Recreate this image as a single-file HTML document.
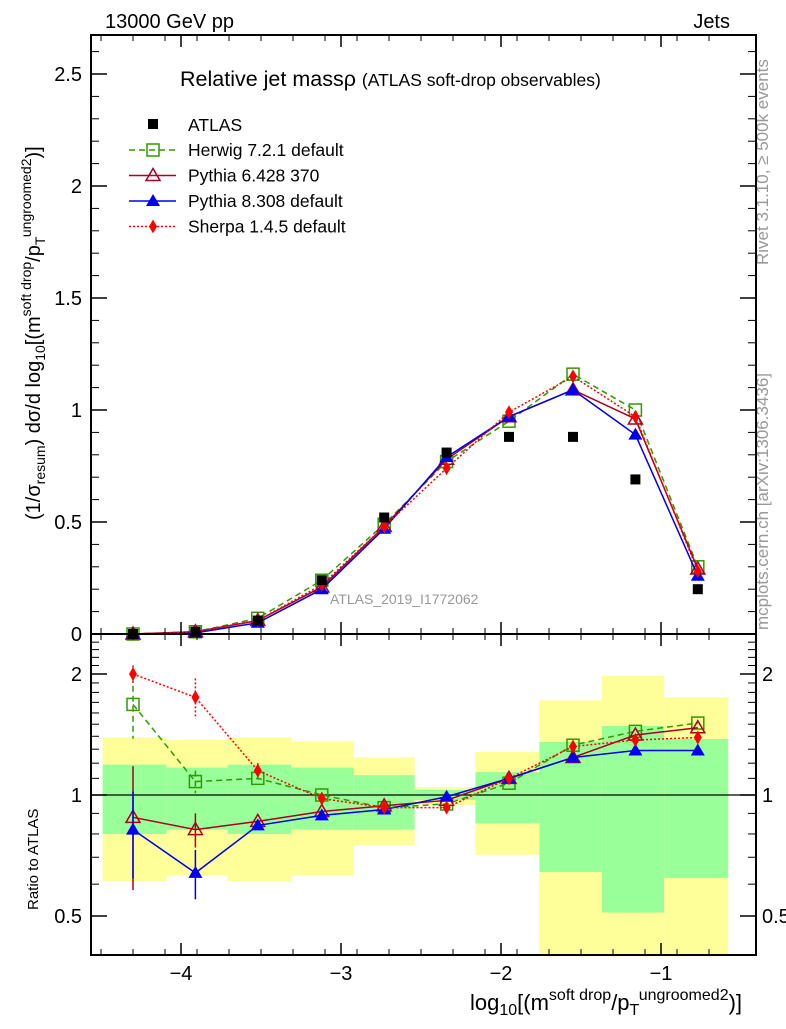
<!DOCTYPE html>
<html><head><meta charset="utf-8"><style>
body{margin:0;background:#fff}
svg{font-family:"Liberation Sans",sans-serif}
</style></head><body>
<svg id="c" width="786" height="1024" viewBox="0 0 786 1024" xmlns="http://www.w3.org/2000/svg">
<text x="105" y="28" font-size="20">13000 GeV pp</text>
<text x="730" y="28" font-size="20" text-anchor="end">Jets</text>
<text x="180" y="86" font-size="21.5">Relative jet massρ <tspan font-size="17.5">(ATLAS soft-drop observables)</tspan></text>
<text x="330" y="604" font-size="14" fill="#999">ATLAS_2019_I1772062</text>
<text transform="translate(768,265) rotate(-90)" font-size="17" fill="#999">Rivet 3.1.10, ≥ 500k events</text>
<text transform="translate(768,630) rotate(-90)" font-size="17" fill="#999">mcplots.cern.ch [arXiv:1306.3436]</text>
<text transform="translate(40,520) rotate(-90)" font-size="20">(1/σ<tspan font-size="14" dy="5">resum</tspan><tspan dy="-5">) dσ/d log</tspan><tspan font-size="14" dy="5">10</tspan><tspan dy="-5">[(m</tspan><tspan font-size="14" dy="-9">soft drop</tspan><tspan dy="9">/p</tspan><tspan font-size="14" dy="5">T</tspan><tspan font-size="14" dy="-14">ungroomed</tspan><tspan font-size="14" dy="0">2</tspan><tspan dy="9">)]</tspan></text>
<text transform="translate(38,910) rotate(-90)" font-size="15">Ratio to ATLAS</text>
<text x="470" y="1010" font-size="22">log<tspan font-size="16" dy="5">10</tspan><tspan dy="-5">[(m</tspan><tspan font-size="16" dy="-10">soft drop</tspan><tspan dy="10">/p</tspan><tspan font-size="16" dy="5">T</tspan><tspan font-size="16" dy="-15">ungroomed</tspan><tspan font-size="16">2</tspan><tspan dy="10">)]</tspan></text>
<g id="bands"></g><g id="marks"></g><g id="axes"></g><g id="legend"></g>
</svg>
<script>
const xCenters=[-4.3,-3.91,-3.52,-3.12,-2.73,-2.34,-1.95,-1.55,-1.16,-0.77];
const binEdges=[-4.49,-4.09,-3.71,-3.31,-2.92,-2.54,-2.16,-1.76,-1.37,-0.98,-0.58];
const atlas=[0.0,0.01,0.06,0.24,0.52,0.81,0.88,0.88,0.69,0.2];
const herwig=[0.0,0.01,0.07,0.24,0.49,0.77,0.95,1.16,1.0,0.3];
const py6=[0.0,0.01,0.06,0.21,0.48,0.78,0.97,1.09,0.96,0.29];
const py8=[0.0,0.005,0.05,0.2,0.47,0.79,0.97,1.09,0.89,0.26];
const sherpa=[0.0,0.01,0.06,0.22,0.48,0.74,0.99,1.15,0.97,0.28];
const rHerwig=[1.68,1.08,1.1,1.0,0.93,0.95,1.07,1.33,1.44,1.51];
const rPy6=[0.88,0.82,0.86,0.91,0.94,0.97,1.1,1.24,1.41,1.47];
const rPy8=[0.82,0.64,0.84,0.89,0.92,0.99,1.1,1.24,1.29,1.29];
const rSherpa=[2.0,1.75,1.15,0.98,0.93,0.93,1.1,1.32,1.37,1.39];
const rHerwigErr=[0.3,0.07,0.03,0.02,0.01,0.01,0.01,0.01,0.01,0.01];
const rPy6Err=[0.3,0.08,0.02,0.01,0.01,0.01,0.01,0.01,0.01,0.01];
const rPy8Err=[0.2,0.09,0.02,0.01,0.01,0.01,0.01,0.01,0.01,0.01];
const rSherpaErr=[0.1,0.2,0.05,0.02,0.01,0.01,0.01,0.01,0.01,0.01];
const yellowHi=[1.39,1.37,1.39,1.36,1.24,1.047,1.28,1.72,1.98,1.75];
const yellowLo=[0.61,0.63,0.61,0.63,0.75,0.944,0.71,0.3,0.3,0.3];
const greenHi=[1.19,1.17,1.19,1.17,1.12,1.029,1.14,1.355,1.485,1.378];
const greenLo=[0.80,0.82,0.80,0.82,0.82,0.972,0.85,0.643,0.51,0.622];
const xTicks=[-4,-3,-2,-1];
const yTicks=[0,0.5,1,1.5,2,2.5];
const rTicks=[0.5,1,2];

const NS="http://www.w3.org/2000/svg";
const L=91,R=756,T=35,MB=634,RB=955;
const X=v=>181+(v+4)*160;
const Y=v=>634-v*224;
const RY=v=>Math.min(RB,Math.max(MB,795-121*Math.log2(v)));
function mk(tag,at,par){const e=document.createElementNS(NS,tag);for(const k in at)e.setAttribute(k,at[k]);document.getElementById(par).appendChild(e);return e;}

for(let i=0;i<xCenters.length;i++){
 const x0=X(binEdges[i]),x1=X(binEdges[i+1]);
 let e=mk('rect',{x:x0,y:RY(yellowHi[i]),width:x1-x0,height:RY(yellowLo[i])-RY(yellowHi[i]),fill:'#ffff99'},'bands');
 
 
 e=mk('rect',{x:x0,y:RY(greenHi[i]),width:x1-x0,height:RY(greenLo[i])-RY(greenHi[i]),fill:'#99ff99'},'bands');
 
 
}
let ln=mk('line',{x1:L,x2:R,y1:RY(1),y2:RY(1),stroke:'#000','stroke-width':1.2},'bands');



function marker(kind,x,y,col,par){
 let e;
 if(kind==='sq')e=mk('rect',{x:x-5,y:y-5,width:10,height:10,fill:'#000'},par);
 else if(kind==='osq')e=mk('rect',{x:x-6,y:y-6,width:12,height:12,fill:'none',stroke:col,'stroke-width':1.5},par);
 else if(kind==='otri')e=mk('polygon',{points:`${x},${y-7} ${x-7},${y+5} ${x+7},${y+5}`,fill:'none',stroke:col,'stroke-width':1.5},par);
 else if(kind==='tri')e=mk('polygon',{points:`${x},${y-7} ${x-7},${y+5} ${x+7},${y+5}`,fill:col},par);
 else e=mk('polygon',{points:`${x},${y-7} ${x-4},${y} ${x},${y+7} ${x+4},${y}`,fill:col},par);
 return e;
}
const series=[
 {name:'herwig',m:herwig,r:rHerwig,er:rHerwigErr,col:'#339900',dash:'6,4',k:'osq'},
 {name:'pythia6',m:py6,r:rPy6,er:rPy6Err,col:'#aa0022',dash:'',k:'otri'},
 {name:'pythia8',m:py8,r:rPy8,er:rPy8Err,col:'#0000ee',dash:'',k:'tri'},
 {name:'sherpa',m:sherpa,r:rSherpa,er:rSherpaErr,col:'#ff0000',dash:'2,2',k:'dia'}];
series.forEach(s=>{
 let p=mk('polyline',{points:xCenters.map((x,i)=>X(x)+','+Y(s.m[i])).join(' '),fill:'none',stroke:s.col,'stroke-width':1.5,'stroke-dasharray':s.dash},'marks');
 
 
 p=mk('polyline',{points:xCenters.map((x,i)=>X(x)+','+RY(s.r[i])).join(' '),fill:'none',stroke:s.col,'stroke-width':1.5,'stroke-dasharray':s.dash},'marks');
 
 
 xCenters.forEach((x,i)=>{
  let e=marker(s.k,X(x),Y(s.m[i]),s.col,'marks');
  
  
  if(s.er[i]>0.02){
   e=mk('line',{x1:X(x),x2:X(x),y1:RY(s.r[i]+s.er[i]),y2:RY(Math.max(0.05,s.r[i]-s.er[i])),stroke:s.col,'stroke-width':1.5,'stroke-dasharray':s.dash},'marks');
   
   
  }
  e=marker(s.k,X(x),RY(s.r[i]),s.col,'marks');
  
  
 });
});
xCenters.forEach((x,i)=>{
 const e=marker('sq',X(x),Y(atlas[i]),'#000','marks');
 
 
});

[[T,MB],[MB,RB]].forEach(([a,b])=>{
 const e=mk('rect',{x:L,y:a,width:R-L,height:b-a,fill:'none',stroke:'#000','stroke-width':2},'axes');
 
 
});
for(let v=-4.5;v<=-0.6;v+=0.2){const x=X(v);[[T,6],[MB,-6],[MB,6],[RB,-6]].forEach(([y,d])=>mk('line',{x1:x,x2:x,y1:y,y2:y+d,stroke:'#000'},'axes'));}
xTicks.forEach(v=>{const x=X(v);
 [[T,12],[MB,-12],[MB,12],[RB,-12]].forEach(([y,d])=>mk('line',{x1:x,x2:x,y1:y,y2:y+d,stroke:'#000','stroke-width':1.5},'axes'));
 const t=mk('text',{x:x,y:980,'font-size':20,'text-anchor':'middle'},'axes');t.textContent='−'+Math.abs(v);
 
 
});
for(let v=0.1;v<2.65;v+=0.1){const y=Y(v);mk('line',{x1:L,x2:L+8,y1:y,y2:y,stroke:'#000'},'axes');mk('line',{x1:R,x2:R-8,y1:y,y2:y,stroke:'#000'},'axes');}
yTicks.forEach(v=>{const y=Y(v);
 mk('line',{x1:L,x2:L+16,y1:y,y2:y,stroke:'#000','stroke-width':1.5},'axes');mk('line',{x1:R,x2:R-16,y1:y,y2:y,stroke:'#000','stroke-width':1.5},'axes');
 const t=mk('text',{x:82,y:y+7,'font-size':20,'text-anchor':'end'},'axes');t.textContent=String(v);
 
 
});
for(let v=0.4;v<2.5;v+=0.1){const y=RY(v);if(y>=RB||y<=MB)continue;mk('line',{x1:L,x2:L+8,y1:y,y2:y,stroke:'#000'},'axes');mk('line',{x1:R,x2:R-8,y1:y,y2:y,stroke:'#000'},'axes');}
rTicks.forEach(v=>{const y=RY(v);
 mk('line',{x1:L,x2:L+16,y1:y,y2:y,stroke:'#000','stroke-width':1.5},'axes');mk('line',{x1:R,x2:R-16,y1:y,y2:y,stroke:'#000','stroke-width':1.5},'axes');
 let t=mk('text',{x:82,y:y+7,'font-size':20,'text-anchor':'end'},'axes');t.textContent=String(v);
 
 
 t=mk('text',{x:762,y:y+7,'font-size':20},'axes');t.textContent=String(v);
 
 
});

const legNames=['Herwig 7.2.1 default','Pythia 6.428 370','Pythia 8.308 default','Sherpa 1.4.5 default'];
let lt=mk('text',{x:188,y:131,'font-size':17.5},'legend');lt.textContent='ATLAS';


marker('sq',153,124,'#000','legend');
series.forEach((s,i)=>{const y=150+i*25.5;
 mk('line',{x1:129,x2:176,y1:y,y2:y,stroke:s.col,'stroke-width':1.5,'stroke-dasharray':s.dash},'legend');
 marker(s.k,153,y,s.col,'legend');
 const t=mk('text',{x:188,y:y+6,'font-size':17.5},'legend');t.textContent=legNames[i];
 
 
});
</script>
</body></html>
